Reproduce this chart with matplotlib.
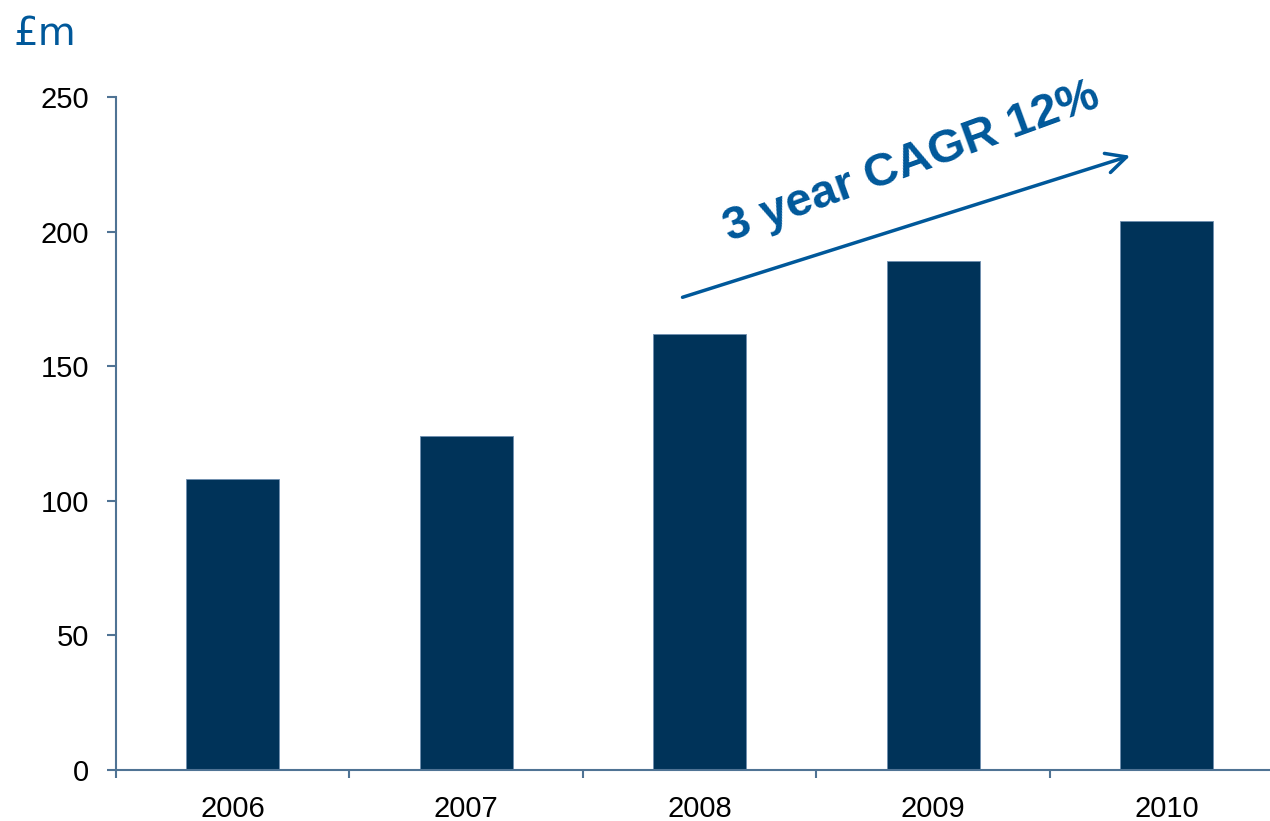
import matplotlib.pyplot as plt
import numpy as np
from matplotlib.ticker import FixedLocator

plt.rcParams['font.family'] = ['Liberation Sans', 'DejaVu Sans']

# Revenue by year, £m
years = ['2006', '2007', '2008', '2009', '2010']
revenue = [108, 124, 162, 189, 204]

bar_col = '#003359'
axis_col = '#4f7394'
note_col = '#00589a'

fig = plt.figure(figsize=(12.7, 8.21), dpi=100)
ax = fig.add_axes([0.0913, 0.0621, 0.9193, 0.8197])

x = np.arange(len(years))
ax.bar(x, revenue, width=0.4, color=bar_col, edgecolor='#6f8fb0', linewidth=0.6)

ax.set_xlim(-0.5, len(years) - 0.5)
ax.set_ylim(0, 250)
ax.set_yticks(np.arange(0, 251, 50))
ax.set_xticks(x)
ax.set_xticklabels(years)
ax.xaxis.set_minor_locator(FixedLocator(np.arange(-0.5, len(years), 1.0)))

for s in ['top', 'right']:
    ax.spines[s].set_visible(False)
for s in ['left', 'bottom']:
    ax.spines[s].set_color(axis_col)
    ax.spines[s].set_linewidth(1.5)

ax.tick_params(axis='y', direction='out', length=6.5, width=1.5, color=axis_col,
               labelsize=21, pad=13, labelcolor='black')
ax.tick_params(axis='x', which='major', length=0, labelsize=21, pad=18,
               labelcolor='black')
ax.tick_params(axis='x', which='minor', direction='out', length=6, width=1.5,
               color=axis_col)

# growth arrow and label
ax.annotate('', xy=(3.855, 228.5), xytext=(1.915, 175.3),
            arrowprops=dict(arrowstyle='->', color=note_col, lw=2.5,
                            mutation_scale=36))
ax.text(2.91, 225.5, '3 year CAGR 12%', color=note_col, fontsize=34,
        fontweight='bold', rotation=20, ha='center', va='center',
        rotation_mode='anchor')

fig.text(0.011, 0.982, '£m', color=note_col, fontsize=28, ha='left', va='top',
         family='DejaVu Sans')

fig.savefig('out.png', dpi=100)
